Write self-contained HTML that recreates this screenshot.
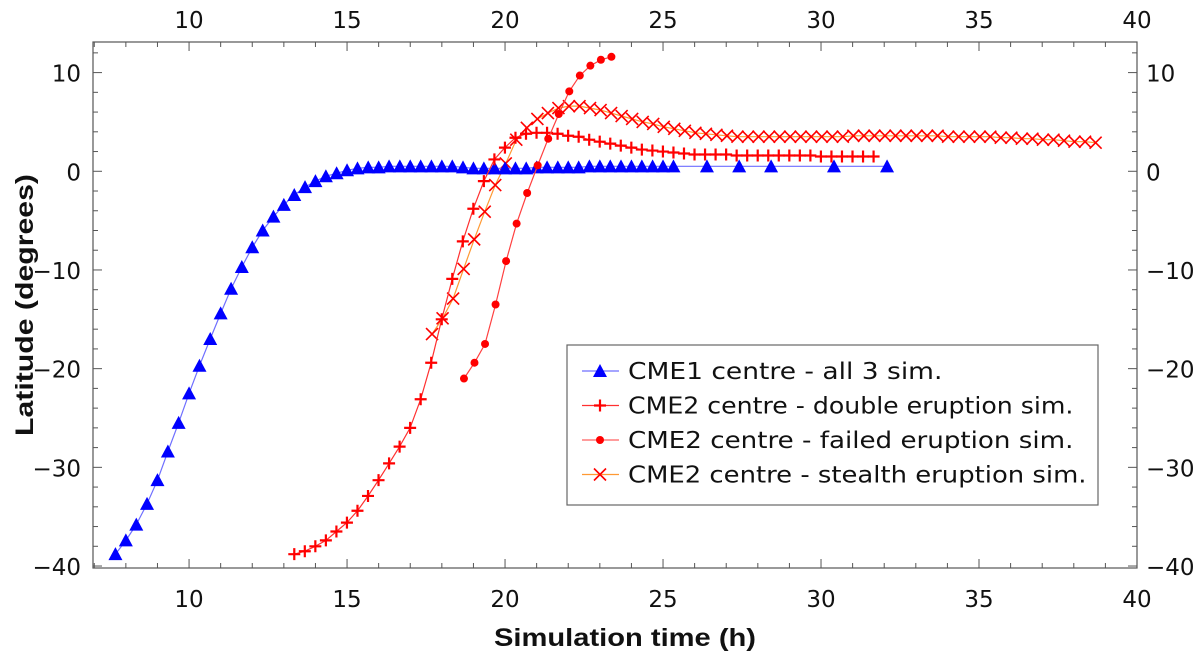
<!DOCTYPE html>
<html><head><meta charset="utf-8"><style>
html,body{margin:0;padding:0;background:#fff}
svg{display:block}
text{font-family:"DejaVu Sans","Liberation Sans",sans-serif;fill:#111}
.title{font-family:"Liberation Sans",sans-serif}
</style></head><body>
<svg id="chart" width="1200" height="655" viewBox="0 0 1200 655" xmlns="http://www.w3.org/2000/svg">
<rect x="0" y="0" width="1200" height="655" fill="#fff"/>
<g id="grid"></g>
<g id="series"></g>
<rect x="93" y="42" width="1044" height="526" fill="none" stroke="#555" stroke-width="1.2"/>
<g id="axes"></g>
<text class="title" x="625" y="646" text-anchor="middle" font-size="25" font-weight="bold" textLength="262" lengthAdjust="spacingAndGlyphs">Simulation time (h)</text>
<text class="title" transform="translate(33,305) rotate(-90)" text-anchor="middle" font-size="25" font-weight="bold" textLength="262" lengthAdjust="spacingAndGlyphs">Latitude (degrees)</text>
<g id="legend"></g>
</svg>
<script>
const cme1Time = [7.67,8,8.33,8.67,9,9.33,9.67,10,10.33,10.67,11,11.33,11.67,12,12.33,12.67,13,13.33,13.67,14,14.33,14.67,15,15.33,15.67,16,16.33,16.67,17,17.33,17.67,18,18.33,18.67,19,19.33,19.67,20,20.33,20.67,21,21.33,21.67,22,22.33,22.67,23,23.33,23.67,24,24.33,24.67,25,25.33,26.39,27.41,28.42,30.41,32.09];
const cme1Lat = [-38.8,-37.4,-35.8,-33.7,-31.3,-28.4,-25.5,-22.5,-19.7,-17.0,-14.4,-11.9,-9.7,-7.7,-6.0,-4.6,-3.4,-2.4,-1.6,-1.0,-0.5,-0.2,0.1,0.3,0.4,0.4,0.5,0.5,0.5,0.5,0.5,0.5,0.5,0.4,0.3,0.3,0.3,0.3,0.3,0.3,0.4,0.4,0.4,0.4,0.4,0.5,0.5,0.5,0.5,0.5,0.5,0.5,0.5,0.5,0.5,0.5,0.5,0.5,0.5];
const doubleStart = 13.33;
const doubleLat = [-38.8,-38.5,-38.0,-37.4,-36.5,-35.6,-34.4,-32.9,-31.3,-29.6,-27.9,-26.0,-23.1,-19.4,-15.0,-10.9,-7.1,-3.8,-1.0,1.2,2.4,3.4,3.8,3.9,3.9,3.8,3.6,3.5,3.2,3.0,2.8,2.6,2.4,2.2,2.1,2.0,1.9,1.8,1.7,1.7,1.7,1.7,1.6,1.6,1.6,1.6,1.6,1.6,1.6,1.6,1.5,1.5,1.5,1.5,1.5,1.5];
const failedStart = 18.7;
const failedLat = [-21.0,-19.4,-17.5,-13.5,-9.1,-5.3,-2.2,0.6,3.3,5.8,8.1,9.7,10.7,11.3,11.6];
const stealthStart = 17.69;
const stealthLat = [-16.5,-14.9,-12.9,-9.9,-6.9,-4.1,-1.4,0.8,3.2,4.4,5.3,5.9,6.4,6.6,6.6,6.4,6.2,5.9,5.6,5.3,5.0,4.8,4.5,4.3,4.1,3.9,3.8,3.7,3.6,3.5,3.5,3.5,3.5,3.5,3.5,3.5,3.5,3.5,3.5,3.5,3.6,3.6,3.6,3.6,3.6,3.6,3.6,3.6,3.6,3.5,3.5,3.5,3.5,3.5,3.4,3.4,3.3,3.3,3.2,3.2,3.1,3.0,3.0,2.9];
const stepH = 1/3;
const xTicks = [10,15,20,25,30,35,40];
const yTicks = [-40,-30,-20,-10,0,10];

const L=93,R=1137,T=42,B=568, X0=6.96,X1=40, Y0=-40.2,Y1=13.1;
const sx=v=>L+(v-X0)/(X1-X0)*(R-L);
const sy=v=>B-(v-Y0)/(Y1-Y0)*(B-T);
const NS='http://www.w3.org/2000/svg';
function mk(tag,attrs,parent){const e=document.createElementNS(NS,tag);for(const k in attrs)e.setAttribute(k,attrs[k]);parent.appendChild(e);return e;}
const axes=document.getElementById('axes'), ser=document.getElementById('series'), leg=document.getElementById('legend');

for(let h=7;h<=40;h++){
  const x=sx(h), len=(h%5===0)?9:5;
  let t=mk('line',{x1:x,y1:B,x2:x,y2:B-len,stroke:'#555','stroke-width':1},axes);
  
  
  t=mk('line',{x1:x,y1:T,x2:x,y2:T+len,stroke:'#555','stroke-width':1},axes);
  
  
}
for(let d=-40;d<=12;d+=2){
  const y=sy(d), len=(d%10===0)?9:5;
  let t=mk('line',{x1:L,y1:y,x2:L+len,y2:y,stroke:'#555','stroke-width':1},axes);
  
  
  t=mk('line',{x1:R,y1:y,x2:R-len,y2:y,stroke:'#555','stroke-width':1},axes);
  
  
}
xTicks.forEach(v=>{
  let t=mk('text',{x:sx(v),y:607,'text-anchor':'middle','font-size':23},axes);t.textContent=v;
  
  
  t=mk('text',{x:sx(v),y:28,'text-anchor':'middle','font-size':23},axes);t.textContent=v;
  
  
});
yTicks.forEach(v=>{
  const lab=v<0?'\u2212'+(-v):String(v);
  let t=mk('text',{x:81,y:sy(v)+9,'text-anchor':'end','font-size':23},axes);t.textContent=lab;
  
  
  t=mk('text',{x:1146,y:sy(v)+9,'text-anchor':'start','font-size':23},axes);t.textContent=lab;
  
  
});

function marker(type,x,y,g){
  let m;
  if(type==='tri') m=mk('path',{d:`M${x-7},${y+6}L${x+7},${y+6}L${x},${y-7}Z`,fill:'#0000ff'},g);
  else if(type==='plus') m=mk('path',{d:`M${x-6},${y}H${x+6}M${x},${y-6}V${y+6}`,stroke:'#ff0000','stroke-width':2.2,fill:'none'},g);
  else if(type==='dot') m=mk('circle',{cx:x,cy:y,r:4,fill:'#ff0000'},g);
  else m=mk('path',{d:`M${x-6},${y-6}L${x+6},${y+6}M${x-6},${y+6}L${x+6},${y-6}`,stroke:'#ff0000','stroke-width':1.6,fill:'none'},g);
  return m;
}
function drawSeries(name,times,lats,lineColor,type){
  const g=mk('g',{},ser);
  
  
  const pts=times.map((t,i)=>sx(t).toFixed(1)+','+sy(lats[i]).toFixed(1)).join(' ');
  const pl=mk('polyline',{points:pts,fill:'none',stroke:lineColor,'stroke-width':1.2},g);
  
  
  times.forEach((t,i)=>{
    const m=marker(type,sx(t),sy(lats[i]),g);
    
    
  });
}
const tArr=(s,n)=>Array.from({length:n},(_,i)=>s+i*stepH);
drawSeries('stealth-eruption-series',tArr(stealthStart,stealthLat.length),stealthLat,'#ff9933','x');
drawSeries('cme1-series',cme1Time,cme1Lat,'#6f6fff','tri');
drawSeries('double-eruption-series',tArr(doubleStart,doubleLat.length),doubleLat,'#ff3030','plus');
drawSeries('failed-eruption-series',tArr(failedStart,failedLat.length),failedLat,'#ff4040','dot');

const lb=mk('rect',{x:567,y:345,width:531,height:160,fill:'#fff',stroke:'#666','stroke-width':1.2},leg);


const entries=[['CME1 centre - all 3 sim.','#6f6fff','tri'],['CME2 centre - double eruption sim.','#ff3030','plus'],['CME2 centre - failed eruption sim.','#ff6060','dot'],['CME2 centre - stealth eruption sim.','#ff9933','x']];
entries.forEach((e,i)=>{
  const y=371+i*34.5;
  const g=mk('g',{},leg);
  
  
  mk('line',{x1:582,y1:y,x2:619,y2:y,stroke:e[1],'stroke-width':1.2},g);
  marker(e[2],600,y,g);
  const t=mk('text',{x:628,y:y+8,'font-size':23,textLength:e[0].length*13.1,lengthAdjust:'spacingAndGlyphs'},g);t.textContent=e[0];
});
</script>
</body></html>
